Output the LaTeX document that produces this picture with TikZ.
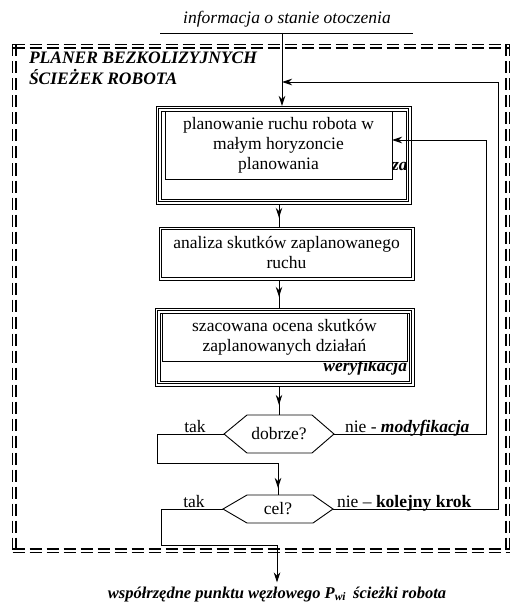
\documentclass[tikz,border=0pt]{standalone}
\usepackage{fontspec}
\setmainfont{Liberation Serif}
\usetikzlibrary{arrows.meta,decorations.markings,calc}
\begin{document}
\begin{tikzpicture}[x=1pt,y=-1pt,line width=0.9pt,
  every node/.style={inner sep=0pt,outer sep=0pt,font=\fontsize{17.5}{20}\selectfont},
  boxo/.style={draw,rectangle},
  boxi/.style={draw,fill=white,rectangle,align=center},
  hexa/.style={rectangle,draw=none},
  tipend/.style={-{Stealth[length=10pt,width=6.5pt]}},
  midtip/.style={decoration={markings,mark=at position #1 with {\arrow{Stealth[length=10pt,width=6.5pt]}}},postaction={decorate}},
  frameline/.style={line width=1.2pt,dash pattern=on 12pt off 5pt},
  bi/.style={font=\fontsize{17.5}{20}\selectfont\bfseries\itshape}]
\useasboundingbox (0,0) rectangle (511,604);

% frame (double dashed lines, dashes in phase)
\coordinate (fa) at (12.5,44.5);
\coordinate (fb) at (509.5,552.5);
\coordinate (fc) at (16,48);
\coordinate (fd) at (506,549);
\draw[frameline] (fa) -- (fa -| fb);
\draw[frameline] (fa |- fc) -- (fc -| fb);
\draw[frameline] (fa |- fb) -- (fb);
\draw[frameline] (fa |- fd) -- (fd -| fb);
\draw[frameline] (fa) -- (fa |- fb);
\draw[frameline] (fc |- fa) -- (fc |- fb);
\draw[frameline] (fb |- fa) -- (fb);
\draw[frameline] (fd |- fa) -- (fd |- fb);

% title
\node[bi,anchor=base west] (t1) at (29,64) {PLANER BEZKOLIZYJNYCH};
\node[bi,anchor=base west] (t2) at (29,85) {ŚCIEŻEK ROBOTA};

% top input
\node[font=\fontsize{17.5}{20}\selectfont\itshape] (inp) at (287,19) {informacja o stanie otoczenia};
\coordinate (tl) at (160,33);
\coordinate (tr) at (413,33);
\coordinate (topin) at (282,33);
\draw (tl) -- (tr);

% box 1
\node[boxo,minimum width=255pt,minimum height=98pt] (b1) at (283.5,155) {};
\draw ([shift={(2.5,2.5)}]b1.north west) rectangle ([shift={(-2.5,-2.5)}]b1.south east);
\draw ([shift={(5,5)}]b1.north west) rectangle ([shift={(-5,-5)}]b1.south east);
\node[bi,anchor=base west] (za) at (392,170) {za};
\node[boxi,minimum width=227pt,minimum height=68pt] (b1in) at (278.5,145) {planowanie ruchu robota w\\małym horyzoncie\\planowania};

% box 2
\node[boxo,minimum width=255pt,minimum height=53pt] (b2) at (286.5,253.5) {};
\draw ([shift={(2.5,2.5)}]b2.north west) rectangle ([shift={(-2.5,-2.5)}]b2.south east);
\node[align=center] (b2t) at (286.5,252) {analiza skutków zaplanowanego\\ruchu};

% box 3
\node[boxo,minimum width=259pt,minimum height=78pt] (b3) at (284.5,347) {};
\draw ([shift={(2.5,2.5)}]b3.north west) rectangle ([shift={(-2.5,-2.5)}]b3.south east);
\draw ([shift={(5,5)}]b3.north west) rectangle ([shift={(-5,-5)}]b3.south east);
\node[bi,anchor=base east] (wer) at (407,371) {weryfikacja};
\node[boxi,minimum width=245pt,minimum height=48pt] (b3in) at (284.5,337) {szacowana ocena skutków\\zaplanowanych działań};

% decisions
\node[hexa,minimum width=110pt,minimum height=38pt] (dob) at (279,434) {dobrze?};
\draw (dob.west) -- ([xshift=23pt]dob.north west) -- ([xshift=-22pt]dob.north east) -- (dob.east) -- ([xshift=-22pt]dob.south east) -- ([xshift=23pt]dob.south west) -- cycle;
\node[hexa,minimum width=110pt,minimum height=28pt] (cel) at (278,509) {cel?};
\draw (cel.west) -- ([xshift=24pt]cel.north west) -- ([xshift=-20pt]cel.north east) -- (cel.east) -- ([xshift=-20pt]cel.south east) -- ([xshift=24pt]cel.south west) -- cycle;

% output
\node[bi,font=\fontsize{16.5}{20}\selectfont\bfseries\itshape] (out) at (277,594) {współrzędne punktu węzłowego P\textsubscript{wi}\, ścieżki robota};

% main flow
\draw[tipend] (topin) -- (topin |- b1.north);
\draw[midtip=0.6] (b1.south -| dob.north) -- (b2.north -| dob.north);
\draw[midtip=0.6] (b2.south -| dob.north) -- (b3.north -| dob.north);
\draw[midtip=0.65] (b3.south -| dob.north) -- (dob.north);

% dobrze? branches
\coordinate (k1) at (157,463);
\draw (dob.west) -| (k1) -- (k1 -| cel.north);
\draw[midtip=0.78] (k1 -| cel.north) -- (cel.north);
\node[anchor=base] (tak1) at (195,432) {tak};
\node[anchor=base west] (nie1) at (345,432) {nie - \textbf{\textit{modyfikacja}}};
\coordinate (fi) at (486,140);
\draw[tipend] (dob.east) -| (fi) -- (fi -| b1in.east);

% cel? branches
\coordinate (k2) at (161,545);
\draw (cel.west) -| (k2) -- (k2 -| out.north);
\draw[tipend,shorten >=4pt] (k2 -| out.north) -- (out.north);
\node[anchor=base] (tak2) at (194,507) {tak};
\node[anchor=base west] (nie2) at (337,507) {nie – \textbf{kolejny krok}};
\coordinate (fo) at (498,82);
\draw[tipend] (cel.east) -| (fo) -- (fo -| topin);
\end{tikzpicture}
\end{document}
